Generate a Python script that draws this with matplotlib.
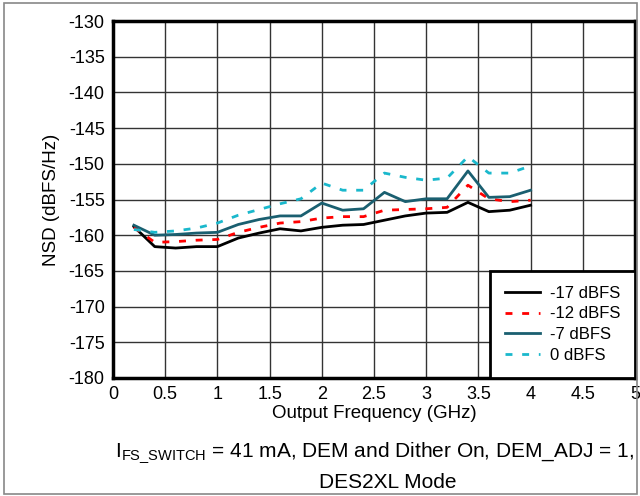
import matplotlib as mpl
mpl.use('Agg')
import matplotlib.pyplot as plt
from matplotlib.patches import Rectangle

plt.rcParams['font.family'] = ['Liberation Sans', 'DejaVu Sans']
plt.rcParams['axes.unicode_minus'] = False
plt.rcParams['mathtext.fontset'] = 'custom'
plt.rcParams['mathtext.rm'] = 'Liberation Sans'

freq = [0.2, 0.4, 0.6, 0.8, 1.0, 1.2, 1.4, 1.6, 1.8, 2.0,
        2.2, 2.4, 2.6, 2.8, 3.0, 3.2, 3.4, 3.6, 3.8, 4.0]

nsd_m17 = [-158.8, -161.6, -161.8, -161.6, -161.6, -160.4, -159.7, -159.1, -159.4, -158.9,
           -158.6, -158.5, -157.9, -157.3, -156.9, -156.8, -155.4, -156.7, -156.5, -155.8]
nsd_m12 = [-158.9, -161.0, -160.9, -160.7, -160.6, -159.6, -158.9, -158.3, -158.1, -157.6,
           -157.4, -157.4, -156.5, -156.4, -156.3, -156.1, -153.0, -154.9, -155.3, -155.1]
nsd_m7 = [-158.6, -160.0, -159.9, -159.7, -159.6, -158.5, -157.8, -157.3, -157.3, -155.5,
          -156.5, -156.3, -154.0, -155.3, -154.9, -154.9, -151.0, -154.7, -154.6, -153.7]
nsd_0 = [-159.2, -159.6, -159.4, -159.0, -158.3, -157.2, -156.4, -155.6, -154.9, -152.7,
         -153.7, -153.7, -151.3, -151.9, -152.3, -152.0, -149.0, -151.3, -151.3, -150.3]

labels = ['-17 dBFS', '-12 dBFS', '-7 dBFS', '0 dBFS']

fig = plt.figure(figsize=(6.4, 4.96), dpi=100)
ax = fig.add_axes([113/640, 1 - 378/496, 522/640, 357/496])

ax.plot(freq, nsd_m17, color='black', lw=2, label=labels[0])
ax.plot(freq, nsd_m12, color='#ff0000', lw=2, ls=(0, (2.5, 3.5)), label=labels[1])
ax.plot(freq, nsd_m7, color='#1a5f70', lw=2, label=labels[2])
ax.plot(freq, nsd_0, color='#1ab8cc', lw=2, ls=(0, (2.5, 3.5)), label=labels[3])

ax.set_xlim(0, 5)
ax.set_ylim(-180, -130)
ax.set_xticks([0, 0.5, 1, 1.5, 2, 2.5, 3, 3.5, 4, 4.5, 5])
ax.set_xticklabels(['0', '0.5', '1', '1.5', '2', '2.5', '3', '3.5', '4', '4.5', '5'])
ax.set_yticks(range(-180, -129, 5))
ax.tick_params(labelsize=13, length=0, pad=6)
ax.grid(True, color='#333333', lw=1)
ax.set_axisbelow(True)
for s in ax.spines.values():
    s.set_linewidth(2.5)
    s.set_color('black')

ax.set_xlabel('Output Frequency (GHz)', fontsize=13.5, labelpad=1)
ax.set_ylabel('NSD (dBFS/Hz)', fontsize=13.5, labelpad=6)

leg = ax.legend(loc='lower right', fontsize=12, frameon=True, fancybox=False,
                borderaxespad=0, handlelength=2.1, labelspacing=0.35,
                borderpad=0.9, handletextpad=0.55)
leg.get_frame().set_edgecolor('black')
leg.get_frame().set_linewidth(2)
leg.get_frame().set_alpha(1)

fig.text(375/640, 1 - 453/496,
         r'I$_{\mathregular{FS\_SWITCH}}$ = 41 mA, DEM and Dither On, DEM_ADJ = 1,',
         ha='center', va='center', fontsize=15)
fig.text(388/640, 1 - 483/496, 'DES2XL Mode', ha='center', va='center', fontsize=15)

fig.patches.append(Rectangle((4/640, 2/496), 633/640, 491/496, transform=fig.transFigure,
                             fill=False, edgecolor='#888888', lw=1.2))

plt.savefig('out.png', dpi=100)
